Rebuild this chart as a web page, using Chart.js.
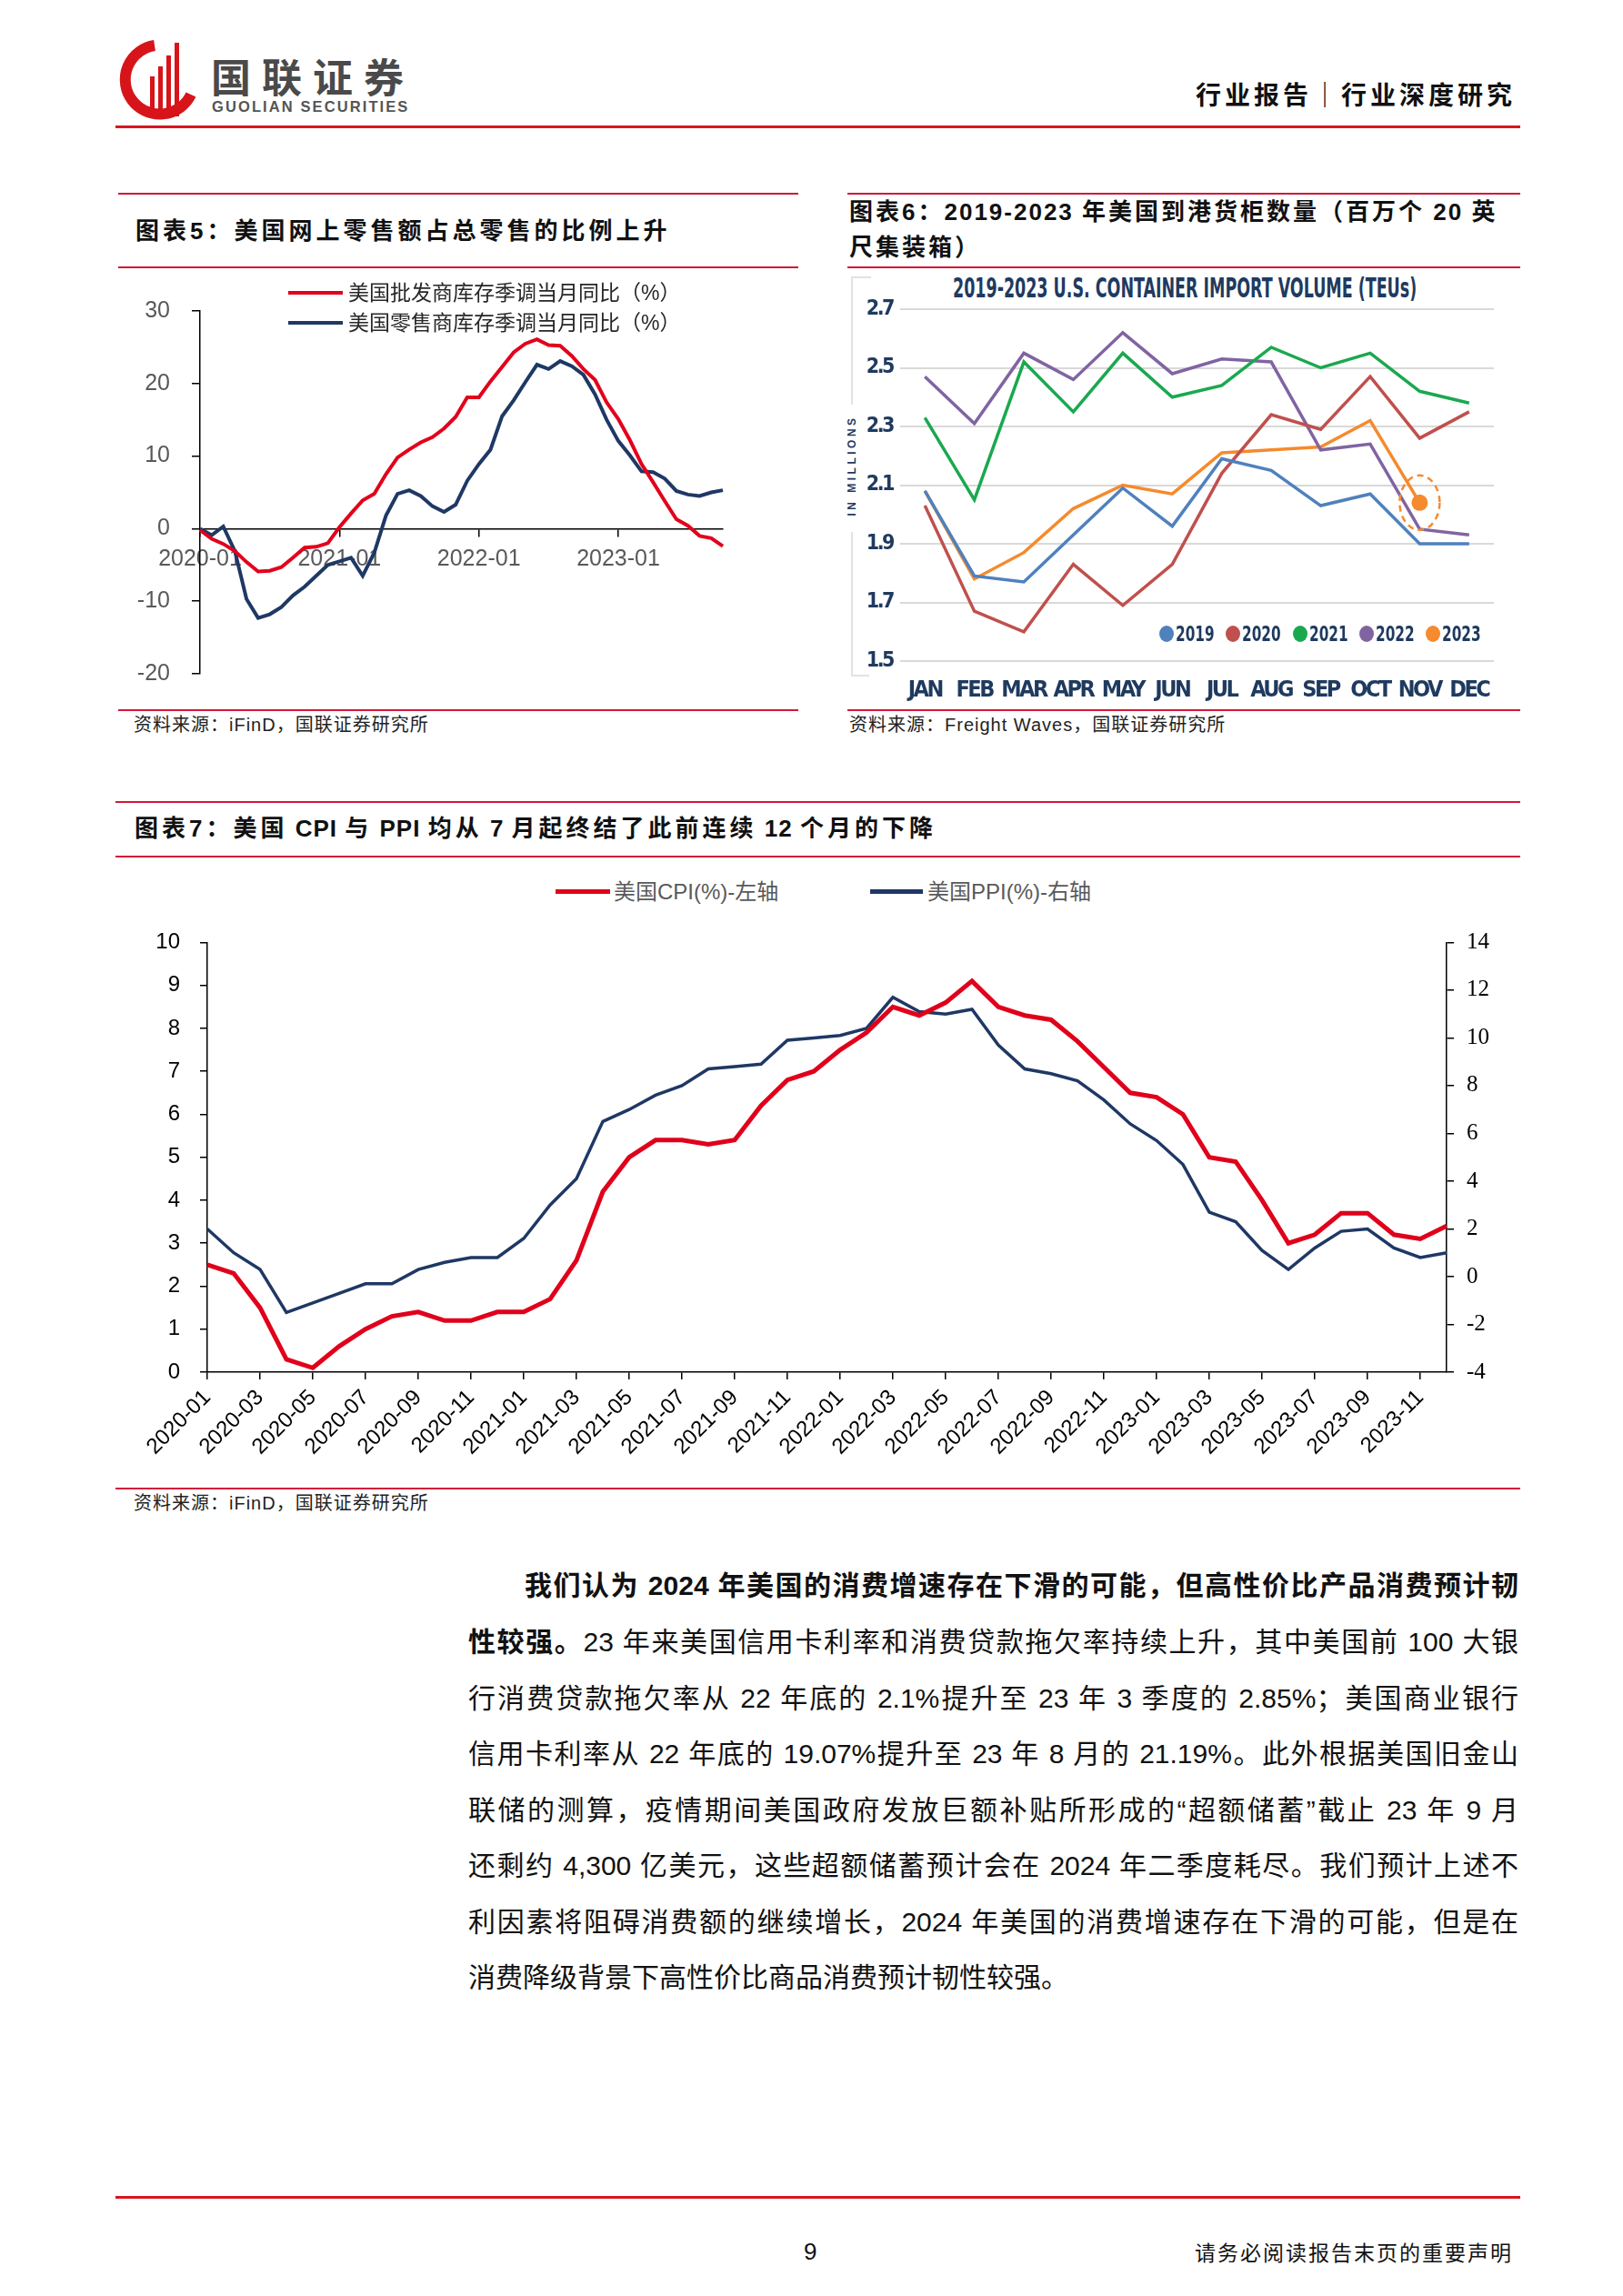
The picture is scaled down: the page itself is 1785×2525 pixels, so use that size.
<!DOCTYPE html>
<html><head><meta charset="utf-8">
<script src="https://cdn.jsdelivr.net/npm/chart.js@4.4.1/dist/chart.umd.min.js"></script>
<style>
html,body{margin:0;padding:0;background:#fff;}
body{width:1785px;height:2525px;position:relative;overflow:hidden;font-family:"Liberation Sans",Arial,"Noto Sans CJK SC",sans-serif;color:#111;}
.abs{position:absolute;white-space:nowrap;}
.rline{position:absolute;height:2px;background:#d2183a;}
.ttl{position:absolute;font-family:"Liberation Sans","Noto Sans CJK SC",sans-serif;font-weight:700;font-size:26px;letter-spacing:4px;color:#111;line-height:39px;white-space:nowrap;}
.ttl .l{letter-spacing:1px;}
.ttl .m{letter-spacing:2px;}
.src{position:absolute;font-size:20px;letter-spacing:1px;color:#222;white-space:nowrap;line-height:24px;}
.bl{position:absolute;left:515px;width:1155px;font-size:30px;line-height:40px;text-align:justify;text-align-last:justify;white-space:nowrap;color:#111;}
.narrow{font-family:"Liberation Sans Narrow","DejaVu Sans Condensed","Liberation Sans",sans-serif;font-weight:700;color:#1f3a5f;}
canvas{position:absolute;}
</style></head>
<body>
<!-- header -->
<svg class="abs" style="left:120px;top:30px" width="360" height="120" viewBox="0 0 360 120">
  <path d="M 50 20 A 38 38 0 1 0 90 74" fill="none" stroke="#d7141a" stroke-width="12"/>
  <rect x="45" y="54" width="5" height="44" fill="#d7141a"/>
  <rect x="54" y="43" width="5" height="55" fill="#d7141a"/>
  <rect x="63" y="31" width="5" height="67" fill="#d7141a"/>
  <rect x="72" y="17" width="5" height="81" fill="#d7141a"/>
  <text x="112" y="72" font-family="Noto Sans CJK SC" font-weight="700" font-size="44" fill="#4a4a4a" letter-spacing="12">国联证券</text>
  <text x="113" y="93" font-family="Liberation Sans" font-weight="700" font-size="16.5" fill="#555" letter-spacing="2.1">GUOLIAN SECURITIES</text>
</svg>
<div class="abs" id="hdr" style="right:118px;top:86px;font-family:'Noto Sans CJK SC';font-weight:700;font-size:28px;line-height:34px;letter-spacing:4px;color:#111;">行业报告｜行业深度研究</div>
<div class="rline" style="left:127px;width:1545px;top:138px;height:3px;background:#d7161f"></div>

<!-- chart 5 frame -->
<div class="rline" style="left:130px;width:748px;top:212px"></div>
<div class="ttl" style="left:149px;top:235px">图表5：美国网上零售额占总零售的比例上升</div>
<div class="rline" style="left:130px;width:748px;top:293px"></div>
<canvas id="c5" width="760" height="480" style="left:130px;top:300px"></canvas>
<div class="abs" style="left:317px;top:320px;width:60px;height:4px;background:#e3001b"></div>
<div class="abs" style="left:383px;top:308px;font-size:23px;line-height:28px;color:#262626">美国批发商库存季调当月同比（%）</div>
<div class="abs" style="left:317px;top:353px;width:60px;height:4px;background:#1f3864"></div>
<div class="abs" style="left:383px;top:341px;font-size:23px;line-height:28px;color:#262626">美国零售商库存季调当月同比（%）</div>
<div class="rline" style="left:130px;width:748px;top:780px"></div>
<div class="src" style="left:147px;top:785px">资料来源：iFinD，国联证券研究所</div>

<!-- chart 6 frame -->
<div class="rline" style="left:932px;width:740px;top:212px"></div>
<div class="ttl" style="left:934px;top:214px;letter-spacing:3px">图表6：<span class="m">2019-2023 </span>年美国到港货柜数量（百万个<span class="m"> 20 </span>英<br>尺集装箱）</div>
<div class="rline" style="left:932px;width:740px;top:293px"></div>
<div class="abs" style="left:936px;top:304px;width:2px;height:141px;background:#e2e2e2"></div>
<div class="abs" style="left:936px;top:585px;width:2px;height:159px;background:#e2e2e2"></div>
<div class="abs" style="left:936px;top:304px;width:22px;height:2px;background:#e2e2e2"></div>
<div class="abs" style="left:936px;top:742px;width:20px;height:2px;background:#e2e2e2"></div>
<div class="abs narrow" style="left:867px;top:505px;width:140px;text-align:center;font-size:12px;line-height:14px;letter-spacing:3.5px;transform:rotate(-90deg);font-family:'Liberation Sans';">IN MILLIONS</div>
<div class="abs narrow" id="t6" style="left:1303px;top:298px;font-size:31px;line-height:36px;transform-origin:0 0;">2019-2023 U.S. CONTAINER IMPORT VOLUME (TEUs)</div>
<canvas id="c6" width="745" height="484" style="left:930px;top:296px"></canvas>
<div id="lg6"></div>
<div class="rline" style="left:932px;width:740px;top:780px"></div>
<div class="src" style="left:934px;top:785px">资料来源：Freight Waves，国联证券研究所</div>

<!-- chart 7 frame -->
<div class="rline" style="left:127px;width:1545px;top:881px"></div>
<div class="ttl" style="left:148px;top:892px">图表7：美国<span class="l"> CPI </span>与<span class="l"> PPI </span>均从<span class="l"> 7 </span>月起终结了此前连续<span class="l"> 12 </span>个月的下降</div>
<div class="rline" style="left:127px;width:1545px;top:941px"></div>
<div class="abs" style="left:611px;top:978px;width:60px;height:5px;background:#e0001b"></div>
<div class="abs" style="left:675px;top:967px;font-size:24px;line-height:28px;color:#595959">美国CPI(%)-左轴</div>
<div class="abs" style="left:957px;top:978px;width:58px;height:5px;background:#1f3864"></div>
<div class="abs" style="left:1020px;top:967px;font-size:24px;line-height:28px;color:#595959">美国PPI(%)-右轴</div>
<canvas id="c7" width="1550" height="636" style="left:130px;top:1000px"></canvas>
<div class="rline" style="left:127px;width:1545px;top:1636px"></div>
<div class="src" style="left:147px;top:1641px">资料来源：iFinD，国联证券研究所</div>

<!-- body text -->
<div class="bl" style="top:1724px;left:577px;width:1093px;font-weight:700">我们认为 2024 年美国的消费增速存在下滑的可能，但高性价比产品消费预计韧</div>
<div class="bl" style="top:1786px"><b>性较强。</b>23 年来美国信用卡利率和消费贷款拖欠率持续上升，其中美国前 100 大银</div>
<div class="bl" style="top:1848px">行消费贷款拖欠率从 22 年底的 2.1%提升至 23 年 3 季度的 2.85%；美国商业银行</div>
<div class="bl" style="top:1909px">信用卡利率从 22 年底的 19.07%提升至 23 年 8 月的 21.19%。此外根据美国旧金山</div>
<div class="bl" style="top:1971px">联储的测算，疫情期间美国政府发放巨额补贴所形成的“超额储蓄”截止 23 年 9 月</div>
<div class="bl" style="top:2032px">还剩约 4,300 亿美元，这些超额储蓄预计会在 2024 年二季度耗尽。我们预计上述不</div>
<div class="bl" style="top:2094px">利因素将阻碍消费额的继续增长，2024 年美国的消费增速存在下滑的可能，但是在</div>
<div class="bl" style="top:2155px;text-align-last:left">消费降级背景下高性价比商品消费预计韧性较强。</div>

<!-- footer -->
<div class="rline" style="left:127px;width:1545px;top:2415px;height:3px;background:#d7161f"></div>
<div class="abs" style="left:884px;top:2461px;font-size:26px;line-height:30px;">9</div>
<div class="abs" style="right:121px;top:2461px;font-family:'Noto Sans CJK SC';font-size:23px;line-height:30px;letter-spacing:2px;">请务必阅读报告末页的重要声明</div>

<script>
// ---------- data: chart 5 (inventory YoY, %) ----------
function monthLabels(y, m, n){ const out=[]; for(let i=0;i<n;i++){ out.push(y+'-'+String(m).padStart(2,'0')); m++; if(m>12){m=1;y++;} } return out; }
const invMonths = monthLabels(2020, 1, 46); // 2020-01 .. 2023-10
const wholesaleInv = [-0.2,-1.4,-2.1,-3.1,-4.6,-5.9,-5.8,-5.3,-4.0,-2.6,-2.5,-2.0,
  0.2,2.1,3.9,4.8,7.5,9.8,10.9,11.9,12.6,13.8,15.4,18.1,
  18.1,20.3,22.3,24.3,25.5,26.1,25.3,25.2,23.8,22.0,20.5,17.4,
  15.1,12.2,8.9,6.4,3.8,1.3,0.4,-1.0,-1.3,-2.4];
const retailInv = [0.0,-0.9,0.3,-3.1,-9.7,-12.3,-11.8,-10.8,-9.2,-8.0,-6.5,-5.0,
  -4.5,-4.0,-6.5,-3.3,1.8,4.8,5.3,4.5,3.1,2.3,3.3,6.6,
  8.9,10.9,15.5,17.7,20.2,22.6,22.0,23.1,22.4,21.2,18.5,15.0,
  12.1,10.1,7.9,7.8,6.9,5.2,4.7,4.5,5.0,5.3];

// ---------- data: chart 6 (container imports, million TEUs) ----------
const teuMonths = ['JAN','FEB','MAR','APR','MAY','JUN','JUL','AUG','SEP','OCT','NOV','DEC'];
const teu2019 = [2.08,1.79,1.77,1.93,2.09,1.96,2.19,2.15,2.03,2.07,1.90,1.90];
const teu2020 = [2.03,1.67,1.60,1.83,1.69,1.83,2.14,2.34,2.29,2.47,2.26,2.35];
const teu2021 = [2.33,2.05,2.52,2.35,2.55,2.40,2.44,2.57,2.50,2.55,2.42,2.38];
const teu2022 = [2.47,2.31,2.55,2.46,2.62,2.48,2.53,2.52,2.22,2.24,1.95,1.93];
const teu2023 = [2.08,1.78,1.87,2.02,2.10,2.07,2.21,2.22,2.23,2.32,2.04,null];
const teuYears = ['2019','2020','2021','2022','2023'];
const teuColors = ['#4f81bd','#c0504d','#1aa84f','#8064a2','#f58a2e'];

// ---------- data: chart 7 (CPI / PPI YoY, %) ----------
const priceMonths = monthLabels(2020, 1, 48); // 2020-01 .. 2023-12
const usCPI = [2.5,2.3,1.5,0.3,0.1,0.6,1.0,1.3,1.4,1.2,1.2,1.4,
  1.4,1.7,2.6,4.2,5.0,5.4,5.4,5.3,5.4,6.2,6.8,7.0,
  7.5,7.9,8.5,8.3,8.6,9.1,8.5,8.3,8.2,7.7,7.1,6.5,
  6.4,6.0,5.0,4.9,4.0,3.0,3.2,3.7,3.7,3.2,3.1,3.4];
const usPPI = [2.0,1.0,0.3,-1.5,-1.1,-0.7,-0.3,-0.3,0.3,0.6,0.8,0.8,
  1.6,3.0,4.1,6.5,7.0,7.6,8.0,8.7,8.8,8.9,9.9,10.0,
  10.1,10.4,11.7,11.1,11.0,11.2,9.7,8.7,8.5,8.2,7.4,6.4,
  5.7,4.7,2.7,2.3,1.1,0.3,1.2,1.9,2.0,1.2,0.8,1.0];

const ARIAL = '"Liberation Sans", Arial, sans-serif';
const NARROW = '"Liberation Sans Narrow","DejaVu Sans Condensed","Liberation Sans",sans-serif';
Chart.defaults.animation = false;
Chart.defaults.responsive = false;
Chart.defaults.devicePixelRatio = 1;
Chart.defaults.plugins.legend.display = false;
Chart.defaults.plugins.tooltip.enabled = false;

// ---------- chart 5 ----------
new Chart(document.getElementById('c5'), {
  type: 'line',
  data: { labels: invMonths, datasets: [
    { data: wholesaleInv, borderColor: '#e3001b', borderWidth: 4, pointRadius: 0, tension: 0 },
    { data: retailInv, borderColor: '#1f3864', borderWidth: 4, pointRadius: 0, tension: 0 }
  ]},
  options: {
    layout: { padding: { top: 42, bottom: 31, right: 95, left: 0 } },
    scales: {
      x: { type: 'category', axis: 'x', position: { y: 0 }, offset: false,
        grid: { display: true, drawOnChartArea: false, drawTicks: true, tickLength: 8, color: '#000', lineWidth: 1.5 },
        border: { display: true, color: '#000', width: 1.5 },
        ticks: { autoSkip: false, maxRotation: 0, minRotation: 0, padding: 11, color: '#595959',
          font: { size: 25, family: ARIAL },
          callback: function(v, i) { return i % 12 === 0 ? this.getLabelForValue(v) : null; } } },
      y: { min: -20, max: 30,
        ticks: { stepSize: 10, padding: 24, color: '#595959', font: { size: 25, family: ARIAL } },
        grid: { drawOnChartArea: false, tickLength: 9, color: '#000', lineWidth: 1.5 },
        border: { color: '#000', width: 1.5 },
        afterFit: function(s) { s.width = 90; } }
    }
  }
});

// ---------- chart 6 ----------
const condensed = {
  id: 'condensed',
  beforeDraw(chart) { chart.ctx.letterSpacing = '-2.5px'; },
  afterDraw(chart) { chart.ctx.letterSpacing = '0px'; }
};
const dashedRing = {
  id: 'dashedRing',
  afterDatasetsDraw(chart) {
    const pt = chart.getDatasetMeta(4).data[10];
    if (!pt) return;
    const ctx = chart.ctx;
    ctx.save();
    ctx.setLineDash([7, 5]);
    ctx.lineWidth = 2.5;
    ctx.strokeStyle = '#f58a2e';
    ctx.beginPath();
    ctx.ellipse(pt.x, pt.y, 22, 30, 0, 0, Math.PI * 2);
    ctx.stroke();
    ctx.restore();
  }
};
const sets6 = [teu2019, teu2020, teu2021, teu2022, teu2023].map((d, k) => ({
  label: teuYears[k], data: d, borderColor: teuColors[k], backgroundColor: teuColors[k],
  borderWidth: 3.5, tension: 0,
  pointRadius: k === 4 ? d.map((v, i) => i === 10 ? 9 : 0) : 0,
  pointBorderWidth: 0
}));
new Chart(document.getElementById('c6'), {
  type: 'line',
  data: { labels: teuMonths, datasets: sets6 },
  plugins: [condensed, dashedRing],
  options: {
    layout: { padding: { top: 44, right: 32, left: 0, bottom: 0 } },
    scales: {
      x: { offset: true, grid: { display: false }, border: { display: false },
        ticks: { autoSkip: false, maxRotation: 0, minRotation: 0, padding: 9, color: '#1f3a5f',
          font: { size: 25, weight: 'bold', family: NARROW } },
        afterFit: function(s) { s.height = 53; } },
      y: { min: 1.5, max: 2.7,
        ticks: { stepSize: 0.2, padding: 8, color: '#1f3a5f', font: { size: 23, weight: 'bold', family: NARROW },
          callback: v => Number(v).toFixed(1) },
        grid: { color: '#d9d9d9', lineWidth: 2, drawTicks: false },
        border: { display: false },
        afterFit: function(s) { s.width = 60; } }
    }
  }
});
// legend + title sizing for chart 6
(function(){
  const lg = document.getElementById('lg6');
  const xs = [1283, 1356, 1430, 1503, 1576];
  teuYears.forEach((y, k) => {
    const dot = document.createElement('div');
    dot.className = 'abs';
    dot.style.cssText = `left:${xs[k]-8}px;top:688px;width:16px;height:18px;border-radius:50%;background:${teuColors[k]}`;
    lg.appendChild(dot);
    const t = document.createElement('div');
    t.className = 'abs narrow';
    t.style.cssText = `left:${xs[k]+10}px;top:683px;font-size:23px;line-height:28px;transform-origin:0 50%;transform:scaleX(0.74);`;
    t.textContent = y;
    lg.appendChild(t);
  });
  const t6 = document.getElementById('t6');
  const w = t6.offsetWidth;
  t6.style.transform = `scaleX(${510 / w})`;
  t6.style.left = (1303 - 255) + 'px';
})();

// ---------- chart 7 ----------
new Chart(document.getElementById('c7'), {
  type: 'line',
  data: { labels: priceMonths, datasets: [
    { data: usCPI, yAxisID: 'y', borderColor: '#e0001b', borderWidth: 5, pointRadius: 0, tension: 0 },
    { data: usPPI, yAxisID: 'y1', borderColor: '#1f3864', borderWidth: 3.5, pointRadius: 0, tension: 0 }
  ]},
  options: {
    layout: { padding: { top: 20, left: 0, right: 6, bottom: 0 } },
    scales: {
      x: { offset: false,
        grid: { drawOnChartArea: false, tickLength: 8, color: '#000', lineWidth: 1.5 },
        border: { color: '#000', width: 1.5 },
        ticks: { autoSkip: false, minRotation: 45, maxRotation: 45, padding: 6, color: '#000',
          font: { size: 24, family: ARIAL },
          callback: function(v, i) { return i % 2 === 0 ? this.getLabelForValue(v) : null; } },
        afterFit: function(s) { s.height = 127; } },
      y: { position: 'left', min: 0, max: 10,
        ticks: { stepSize: 1, padding: 22, color: '#000', font: { size: 24, family: ARIAL } },
        grid: { drawOnChartArea: false, tickLength: 8, color: '#000', lineWidth: 1.5 },
        border: { color: '#000', width: 1.5 },
        afterFit: function(s) { s.width = 98; } },
      y1: { position: 'right', min: -4, max: 14,
        ticks: { stepSize: 2, padding: 14, color: '#000', font: { size: 25, family: '"Liberation Serif", "Times New Roman", serif' } },
        grid: { drawOnChartArea: false, tickLength: 8, color: '#000', lineWidth: 1.5 },
        border: { color: '#000', width: 1.5 },
        afterFit: function(s) { s.width = 83; } }
    }
  }
});
</script>
</body></html>
